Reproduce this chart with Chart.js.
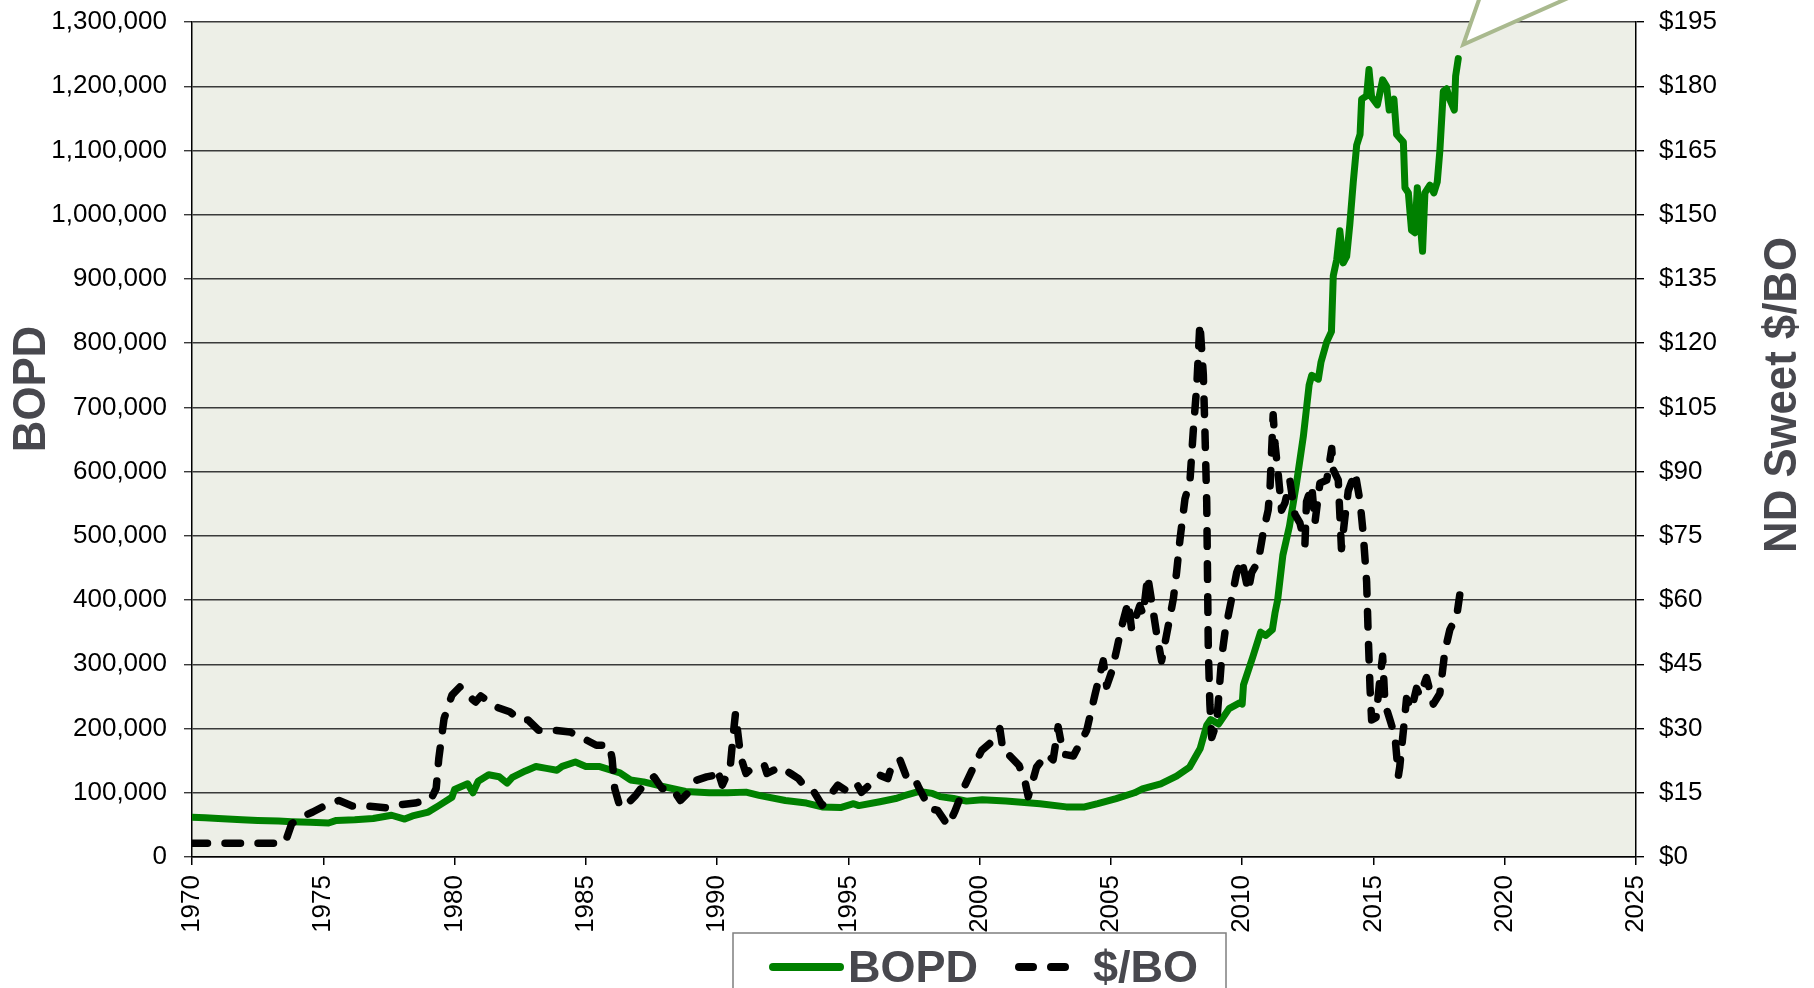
<!DOCTYPE html>
<html>
<head>
<meta charset="utf-8">
<script src="https://cdn.jsdelivr.net/npm/chart.js@4.4.1/dist/chart.umd.min.js"></script>
<style>
  html, body { margin: 0; padding: 0; background: #fff; }
  canvas { display: block; }
</style>
</head>
<body>
<canvas id="oilChart" width="1814" height="988"></canvas>
<script>
// production, barrels of oil per day
var bopdYears = [1970.0, 1970.5, 1971.0, 1971.9, 1972.5, 1973.3, 1973.8, 1974.5, 1975.2, 1975.5,
  1976.2, 1976.9, 1977.6, 1978.1, 1978.4, 1979.0, 1979.4, 1979.9, 1980.0, 1980.5,
  1980.7, 1980.9, 1981.3, 1981.7, 1982.0, 1982.2, 1982.7, 1983.1, 1983.5, 1983.9,
  1984.1, 1984.6, 1985.0, 1985.5, 1985.9, 1986.3, 1986.7, 1987.2, 1987.8, 1988.8,
  1989.7, 1990.4, 1991.1, 1991.6, 1992.6, 1993.4, 1994.0, 1994.7, 1995.2, 1995.4,
  1996.2, 1996.8, 1997.1, 1997.7, 1998.2, 1998.5, 1999.0, 1999.5, 2000.1, 2001.0,
  2002.3, 2003.3, 2004.0, 2004.5, 2005.2, 2005.9, 2006.2, 2006.9, 2007.5, 2008.0,
  2008.4, 2008.65, 2008.8, 2009.1, 2009.5, 2009.9, 2010.0, 2010.05, 2010.4, 2010.7,
  2010.9, 2011.15, 2011.25, 2011.35, 2011.55, 2011.8, 2012.07, 2012.33, 2012.55, 2012.65,
  2012.9, 2013.0, 2013.22, 2013.4, 2013.47, 2013.6, 2013.72, 2013.85, 2013.98, 2014.1,
  2014.23, 2014.36, 2014.49, 2014.55, 2014.74, 2014.83, 2014.93, 2015.15, 2015.35, 2015.5,
  2015.6, 2015.78, 2015.88, 2016.14, 2016.2, 2016.33, 2016.45, 2016.58, 2016.67, 2016.77,
  2016.87, 2016.96, 2017.15, 2017.3, 2017.43, 2017.53, 2017.66, 2017.79, 2017.91, 2018.08,
  2018.13, 2018.23];
var bopdValues = [62000, 61000, 60000, 58000, 57000, 56000, 55000, 54000, 53000, 57000,
  58000, 60000, 65000, 59000, 64000, 70000, 80000, 93000, 105000, 114000,
  100000, 118000, 128000, 125000, 115000, 124000, 134000, 141000, 138000, 135000,
  141000, 148000, 141000, 141000, 136000, 131000, 120000, 117000, 111000, 102000,
  100000, 100000, 101000, 96000, 88000, 84000, 78000, 77000, 83000, 80000,
  86000, 91000, 95000, 102000, 99000, 94000, 91000, 87000, 89000, 87000,
  83000, 78000, 78000, 83000, 91000, 100000, 106000, 114000, 126000, 140000,
  169000, 205000, 214000, 207000, 231000, 240000, 238000, 268000, 311000, 350000,
  345000, 354000, 380000, 400000, 470000, 515000, 582000, 655000, 735000, 750000,
  744000, 770000, 802000, 818000, 905000, 930000, 975000, 925000, 935000, 985000,
  1050000, 1108000, 1125000, 1180000, 1185000, 1226000, 1183000, 1171000, 1210000, 1200000,
  1163000, 1180000, 1125000, 1113000, 1042000, 1034000, 976000, 972000, 1042000, 993000,
  943000, 1034000, 1046000, 1034000, 1051000, 1100000, 1192000, 1196000, 1179000, 1163000,
  1216000, 1243000];

// ND sweet crude price, $ per barrel
var priceYears = [1970.0, 1973.5, 1973.6, 1973.8, 1974.2, 1974.6, 1975.1, 1975.6, 1976.1, 1976.7,
  1977.4, 1977.9, 1978.5, 1979.1, 1979.3, 1979.4, 1979.6, 1979.9, 1980.2, 1980.5,
  1980.8, 1981.0, 1981.6, 1982.1, 1982.5, 1982.8, 1983.2, 1983.8, 1984.4, 1984.9,
  1985.4, 1985.9, 1986.0, 1986.1, 1986.3, 1986.5, 1986.9, 1987.2, 1987.6, 1987.9,
  1988.3, 1988.6, 1988.9, 1989.2, 1989.6, 1989.9, 1990.0, 1990.2, 1990.5, 1990.6,
  1990.7, 1990.9, 1991.1, 1991.3, 1991.8, 1991.9, 1992.4, 1992.8, 1993.1, 1993.4,
  1993.7, 1994.0, 1994.3, 1994.6, 1994.9, 1995.3, 1995.5, 1995.8, 1996.2, 1996.5,
  1996.7, 1996.97, 1997.3, 1997.6, 1997.7, 1998.1, 1998.4, 1998.8, 1999.06, 1999.44,
  1999.9, 2000.08, 2000.4, 2000.65, 2000.77, 2000.9, 2001.15, 2001.5, 2001.73, 2001.85,
  2002.17, 2002.55, 2002.8, 2002.99, 2003.19, 2003.57, 2003.9, 2004.08, 2004.4, 2004.71,
  2004.84, 2005.03, 2005.22, 2005.4, 2005.66, 2005.79, 2006.1, 2006.23, 2006.4, 2006.6,
  2006.75, 2006.93, 2007.25, 2007.38, 2007.5, 2007.63, 2007.82, 2008.01, 2008.14, 2008.27,
  2008.39, 2008.52, 2008.58, 2008.65, 2008.68, 2008.71, 2008.77, 2008.84, 2009.03, 2009.22,
  2009.35, 2009.6, 2009.79, 2009.98, 2010.23, 2010.36, 2010.61, 2010.8, 2010.99, 2011.06,
  2011.12, 2011.18, 2011.25, 2011.37, 2011.5, 2011.63, 2011.82, 2012.01, 2012.2, 2012.39,
  2012.45, 2012.65, 2012.77, 2012.96, 2013.22, 2013.41, 2013.47, 2013.66, 2013.72, 2013.78,
  2013.91, 2014.04, 2014.3, 2014.49, 2014.61, 2014.74, 2014.8, 2014.87, 2014.93, 2015.1,
  2015.25, 2015.35, 2015.44, 2015.63, 2015.82, 2015.95, 2016.0, 2016.14, 2016.26, 2016.45,
  2016.64, 2016.77, 2017.02, 2017.28, 2017.53, 2017.72, 2017.91, 2018.17, 2018.36];
var priceValues = [3.2, 3.2, 4.3, 7.8, 9.4, 10.5, 12.1, 13.2, 11.9, 11.9,
  11.5, 12.2, 12.6, 13.5, 16, 23, 32.3, 37.8, 39.7, 37.8,
  36.2, 37.6, 35, 33.9, 32, 32, 29.6, 29.6, 29.2, 27.7,
  26.1, 26.1, 23, 16, 11.7, 11.9, 14.4, 16.8, 18.7, 16,
  16, 13.2, 15, 17.9, 18.7, 19.1, 20.6, 16.8, 21, 27.7,
  33.5, 23.4, 19.5, 20.6, 21.4, 19.5, 21, 19.5, 18.3, 16,
  15.1, 12.1, 14.4, 16.8, 15.6, 17.3, 15.1, 16.8, 19.1, 18.3,
  22.2, 22.6, 17.3, 17.3, 16, 11.3, 10.9, 7.3, 10.7, 16.7,
  22.7, 24.9, 26.6, 27.9, 30, 24.4, 23.6, 21.4, 17.6, 14.1,
  21, 24, 22.7, 30.4, 24, 23.6, 27.4, 29.6, 38.1, 45.8,
  39.9, 43.3, 48.4, 53.6, 59.6, 53.1, 58.7, 56.6, 65.6, 57.8,
  51.8, 45.8, 56.1, 60.4, 66.4, 74.1, 83.6, 87.8, 99.8, 110,
  124.7, 112.7, 99.8, 82.7, 65.6, 48.4, 35.6, 27.9, 31.3, 46.7,
  52.7, 60.4, 66.4, 69.4, 62.1, 66.4, 69, 75.8, 81, 86.1,
  94.7, 103.3, 96.4, 89.6, 81, 82.7, 87.8, 80, 78, 73,
  83, 86.7, 78, 87.3, 88, 95.4, 90.4, 88, 80, 72,
  79.2, 85.5, 89.8, 83, 75.5, 64.3, 51.9, 39.4, 32, 32.6,
  41.9, 46.9, 35.7, 32, 28.2, 19, 21, 29.5, 37, 34.5,
  39.4, 37.6, 41.9, 35.7, 38.2, 48.1, 53.1, 56.2, 64.3];

var seriesLabels = ['BOPD', '$/BO'];
var axisTitles = ['BOPD', 'ND Sweet $/BO'];

var FONT = "'Liberation Sans', Arial, Helvetica, sans-serif";
var TITLE_COLOR = '#48484e';

function pairUp(xs, ys) {
    return xs.map(function (x, i) { return { x: x, y: ys[i] }; });
}

var chartData = {
    datasets: [{
        label: seriesLabels[0],
        data: pairUp(bopdYears, bopdValues),
        yAxisID: 'y',
        borderColor: '#008000',
        borderWidth: 7,
        borderCapStyle: 'round',
        borderJoinStyle: 'round',
        pointRadius: 0,
        tension: 0,
        order: 1
    },
    {
        label: seriesLabels[1],
        data: pairUp(priceYears, priceValues),
        yAxisID: 'y1',
        borderColor: '#000000',
        borderWidth: 7.5,
        borderDash: [15.5, 17.5],
        borderCapStyle: 'round',
        borderJoinStyle: 'round',
        pointRadius: 0,
        tension: 0,
        order: 0
    }]
};

// plot background, callout, axis titles and the boxed legend
var decorations = {
    id: 'decorations',
    beforeDraw: function (chart) {
        var a = chart.chartArea, ctx = chart.ctx;
        ctx.save();
        ctx.fillStyle = '#edefe7';
        ctx.fillRect(a.left, a.top, a.right - a.left, a.bottom - a.top);
        ctx.restore();
    },
    afterDraw: function (chart) {
        var ctx = chart.ctx;
        var ds = chart.data.datasets;

        // callout pointer at the last BOPD point
        var meta = chart.getDatasetMeta(0);
        var last = meta.data[meta.data.length - 1];
        var tx = last.x + 5, ty = last.y - 14;
        ctx.save();
        ctx.beginPath();
        ctx.moveTo(tx + 21, ty - 60);
        ctx.lineTo(tx, ty);
        ctx.lineTo(tx + 135, ty - 60);
        ctx.closePath();
        ctx.fillStyle = '#ffffff';
        ctx.fill();
        ctx.beginPath();
        ctx.moveTo(tx + 21, ty - 60);
        ctx.lineTo(tx, ty);
        ctx.lineTo(tx + 135, ty - 60);
        ctx.strokeStyle = '#a9b98e';
        ctx.lineWidth = 4;
        ctx.lineJoin = 'miter';
        ctx.stroke();
        ctx.restore();

        // axis titles
        ctx.save();
        ctx.fillStyle = TITLE_COLOR;
        ctx.font = 'bold 47px ' + FONT;
        ctx.textAlign = 'center';
        ctx.textBaseline = 'middle';
        ctx.translate(32, 389);
        ctx.rotate(-Math.PI / 2);
        ctx.scale(0.93, 1);
        ctx.fillText(axisTitles[0], 0, 0);
        ctx.restore();

        ctx.save();
        ctx.fillStyle = TITLE_COLOR;
        ctx.font = 'bold 47px ' + FONT;
        ctx.textAlign = 'center';
        ctx.textBaseline = 'middle';
        ctx.translate(1783, 395);
        ctx.rotate(-Math.PI / 2);
        ctx.scale(0.93, 1);
        ctx.fillText(axisTitles[1], 0, 0);
        ctx.restore();

        // legend box
        ctx.save();
        ctx.fillStyle = '#ffffff';
        ctx.fillRect(733, 933, 493, 80);
        ctx.strokeStyle = '#7f7f7f';
        ctx.lineWidth = 1.5;
        ctx.strokeRect(733, 933, 493, 80);

        ctx.lineCap = 'round';
        ctx.lineWidth = 8;
        ctx.strokeStyle = ds[0].borderColor;
        ctx.beginPath();
        ctx.moveTo(773, 967);
        ctx.lineTo(840, 967);
        ctx.stroke();

        ctx.strokeStyle = ds[1].borderColor;
        ctx.setLineDash([14, 18]);
        ctx.beginPath();
        ctx.moveTo(1019, 967);
        ctx.lineTo(1083, 967);
        ctx.stroke();
        ctx.setLineDash([]);

        ctx.fillStyle = TITLE_COLOR;
        ctx.font = 'bold 45px ' + FONT;
        ctx.textAlign = 'left';
        ctx.textBaseline = 'alphabetic';
        ctx.fillText(ds[0].label, 848, 982);
        ctx.fillText(ds[1].label, 1093, 982);
        ctx.restore();
    }
};

var tickFont = { family: FONT, size: 26 };

// pin the side axes to a fixed width and stop them pushing the plot down
function fixWidth(w) {
    return function (scale) {
        scale.width = w;
        scale.paddingTop = 0;
        scale.paddingBottom = 0;
    };
}

var oilChart = new Chart(document.getElementById('oilChart'), {
    type: 'line',
    data: chartData,
    plugins: [decorations],
    options: {
        responsive: false,
        animation: false,
        devicePixelRatio: 1,
        layout: { padding: { top: 22, left: 0, right: 0, bottom: 0 } },
        plugins: {
            legend: { display: false },
            tooltip: { enabled: false }
        },
        scales: {
            x: {
                type: 'linear',
                position: 'bottom',
                min: 1970,
                max: 2025,
                ticks: {
                    stepSize: 5,
                    autoSkip: false,
                    minRotation: 90,
                    maxRotation: 90,
                    padding: 10,
                    color: '#000',
                    font: tickFont,
                    callback: function (v) { return String(v); }
                },
                grid: { drawOnChartArea: false, drawTicks: true, tickLength: 8, color: '#000', lineWidth: 1.5 },
                border: { color: '#000', width: 1.5 },
                afterFit: function (scale) {
                    scale.height = 131;
                    scale.paddingLeft = 0;
                    scale.paddingRight = 0;
                }
            },
            y: {
                position: 'left',
                min: 0,
                max: 1300000,
                ticks: {
                    stepSize: 100000,
                    padding: 17,
                    color: '#000',
                    font: tickFont,
                    callback: function (v) { return v.toLocaleString('en-US'); }
                },
                grid: { color: '#3a3a3a', lineWidth: 1.4, tickLength: 8 },
                border: { color: '#000', width: 1.5 },
                afterFit: fixWidth(192)
            },
            y1: {
                position: 'right',
                min: 0,
                max: 195,
                ticks: {
                    stepSize: 15,
                    padding: 15,
                    color: '#000',
                    font: tickFont,
                    callback: function (v) { return '$' + v; }
                },
                grid: { drawOnChartArea: false, drawTicks: true, tickLength: 8, color: '#000', lineWidth: 1.4 },
                border: { color: '#000', width: 1.5 },
                afterFit: fixWidth(178)
            }
        }
    }
});
</script>
</body>
</html>
